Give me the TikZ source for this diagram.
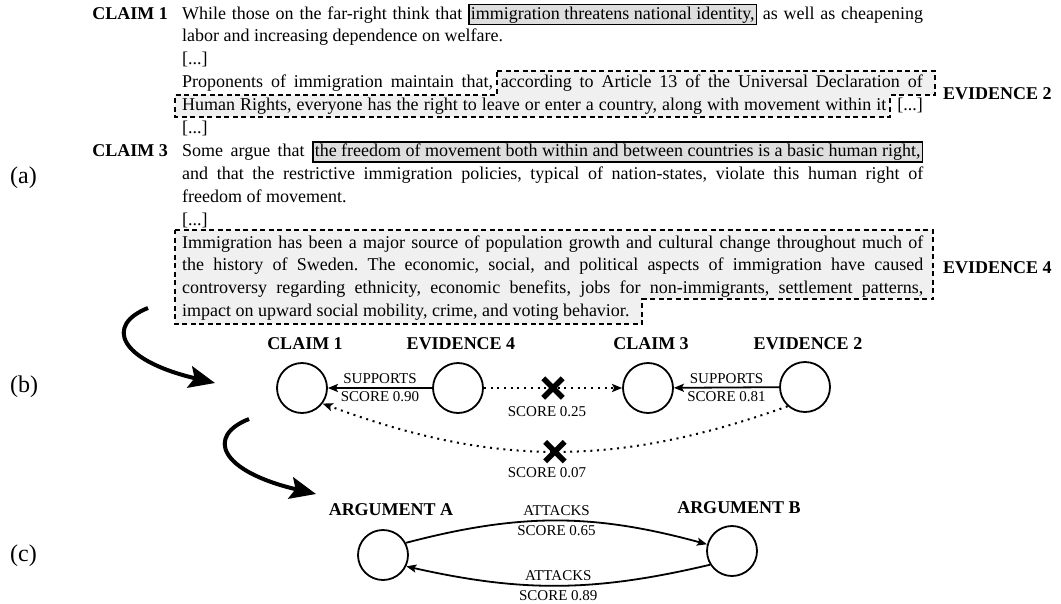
\documentclass[tikz,border=0pt]{standalone}
\usepackage{fontspec}
\setmainfont{Liberation Serif}
\usetikzlibrary{arrows.meta,shapes.misc}
\definecolor{hlgray}{gray}{0.87}
\definecolor{evgray}{gray}{0.94}
\newcommand{\hlbox}[1]{{\setlength{\fboxsep}{1.2pt}\setlength{\fboxrule}{1.4pt}\fcolorbox{black}{hlgray}{\vphantom{dg}#1}}}
\tikzset{
  txt/.style={anchor=base west, inner sep=0pt, font=\fontsize{18}{22}\selectfont\frenchspacing},
  txtr/.style={anchor=base east, inner sep=0pt, font=\fontsize{18}{22}\selectfont\frenchspacing},
  lbl/.style={inner sep=0pt, font=\fontsize{18}{22}\selectfont\bfseries},
  part/.style={inner sep=0pt, font=\fontsize{24}{28}\selectfont},
  small/.style={inner sep=0pt, font=\fontsize{15}{18}\selectfont},
  evbox/.style={fill=evgray, draw=black, line width=1.6pt, dash pattern=on 5pt off 3.5pt},
  circ/.style={circle, draw, solid, line width=1.8pt, minimum size=50pt, inner sep=0pt},
  supp/.style={line width=1.8pt, -{Stealth[length=10pt,width=8pt,inset=2pt]}},
  dotline/.style={line width=2pt, dash pattern=on 2pt off 4.7pt, -{Stealth[length=10pt,width=8pt,inset=2pt]}},
  xmark/.style={cross out, draw, solid, line width=5.5pt, minimum size=14pt, inner sep=0pt},
  bigarrow/.style={line width=4pt, -{Stealth[length=26pt,width=22pt,inset=5pt]}}
}
\begin{document}
\begin{tikzpicture}[x=1pt,y=1pt]
\path[use as bounding box, fill=white] (0,0) rectangle (1061,-603);

% evidence backgrounds
\path[evbox] (497,-71) -- (935,-71) -- (935,-95) -- (890,-95) -- (890,-117) -- (175,-117) -- (175,-95) -- (497,-95) -- cycle;
\path[evbox] (175,-230) -- (933,-230) -- (933,-299) -- (642,-299) -- (642,-324) -- (175,-324) -- cycle;

% text lines
\node[txt] (l1) at (182,-19) {\makebox[741pt][s]{While those on the far-right think that \hlbox{immigration threatens national identity,} as well as cheapening}};
\node[txt] (l2) at (182,-41.9) {labor and increasing dependence on welfare.};
\node[txt] (l3) at (182,-64.8) {[...]};
\node[txt] (l4a) at (182,-87.7) {\makebox[311pt][s]{Proponents of immigration maintain that,}};
\node[txtr] (l4b) at (923,-87.7) {\makebox[422pt][s]{according to Article 13 of the Universal Declaration of}};
\node[txt] (l5a) at (182,-110.6) {\makebox[704pt][s]{Human Rights, everyone has the right to leave or enter a country, along with movement within it}};
\node[txtr] (l5b) at (923,-110.6) {[...]};
\node[txt] (l6) at (182,-133.5) {[...]};
\node[txt] (l7) at (182,-156.4) {\makebox[741pt][s]{Some argue that \hlbox{the freedom of movement both within and between countries is a basic human right,}}};
\node[txt] (l8) at (182,-179.3) {\makebox[741pt][s]{and that the restrictive immigration policies, typical of nation-states, violate this human right of}};
\node[txt] (l9) at (182,-202.2) {freedom of movement.};
\node[txt] (l10) at (182,-225.1) {[...]};
\node[txt] (l11) at (182,-248) {\makebox[741pt][s]{Immigration has been a major source of population growth and cultural change throughout much of}};
\node[txt] (l12) at (182,-270.9) {\makebox[741pt][s]{the history of Sweden. The economic, social, and political aspects of immigration have caused}};
\node[txt] (l13) at (182,-293.8) {\makebox[741pt][s]{controversy regarding ethnicity, economic benefits, jobs for non-immigrants, settlement patterns,}};
\node[txt] (l14) at (182,-316.7) {impact on upward social mobility, crime, and voting behavior.};

% side labels
\node[lbl, anchor=base east] (tc1) at (168,-19) {CLAIM 1};
\node[lbl, anchor=base east] (tc3) at (168,-156.4) {CLAIM 3};
\node[lbl, anchor=base west] (te2) at (943,-99) {EVIDENCE 2};
\node[lbl, anchor=base west] (te4) at (943,-273) {EVIDENCE 4};

\node[part, anchor=west] (pa) at (10,-178) {(a)};
\node[part, anchor=west] (pb) at (10,-387) {(b)};
\node[part, anchor=west] (pc) at (10,-556) {(c)};

% big arrows
\coordinate (ba1s) at (148,-308);
\coordinate (ba1e) at (215,-383);
\coordinate (ba2s) at (249,-419);
\coordinate (ba2e) at (316,-494);
\draw[bigarrow] (ba1s) .. controls (105,-325) and (118,-360) .. (ba1e);
\draw[bigarrow] (ba2s) .. controls (206,-436) and (219,-471) .. (ba2e);

% (b) graph
\node[circ] (c1) at (302,-388) {};
\node[circ] (e4) at (458,-388) {};
\node[circ] (c3) at (648,-388) {};
\node[circ] (e2) at (805,-387) {};
\node[lbl] (lc1) at (305,-344) {CLAIM 1};
\node[lbl] (le4) at (461,-344) {EVIDENCE 4};
\node[lbl] (lc3) at (651,-344) {CLAIM 3};
\node[lbl] (le2) at (808,-344) {EVIDENCE 2};

\draw[supp] (e4) -- node[small, above=3pt] (s1a) {SUPPORTS} node[small, below=3pt] (s1b) {SCORE 0.90} (c1);
\draw[supp] (e2) -- node[small, above=3pt] (s2a) {SUPPORTS} node[small, below=3pt] (s2b) {SCORE 0.81} (c3);
\draw[dotline] (e4) -- node[xmark] (x1) {} (c3);
\node[small] (s3) at (547,-412) {SCORE 0.25};
\draw[dotline] (e2.228) to[bend left=20] node[xmark, pos=0.5] (x2) {} (c1.-37);
\node[small] (s4) at (547,-473) {SCORE 0.07};

% (c) graph
\node[circ] (aa) at (383,-555) {};
\node[circ] (ab) at (732,-551) {};
\node[lbl] (laa) at (391,-510) {ARGUMENT A};
\node[lbl] (lab) at (739,-508) {ARGUMENT B};
\draw[supp] (aa.28) to[bend left=15] node[small, above=4pt] (t1a) {ATTACKS} node[small, below=4pt] (t1b) {SCORE 0.65} (ab.165);
\draw[supp] (ab.212) to[bend left=13] node[small, above=4pt] (t2a) {ATTACKS} node[small, below=4pt] (t2b) {SCORE 0.89} (aa.334);
\end{tikzpicture}
\end{document}
